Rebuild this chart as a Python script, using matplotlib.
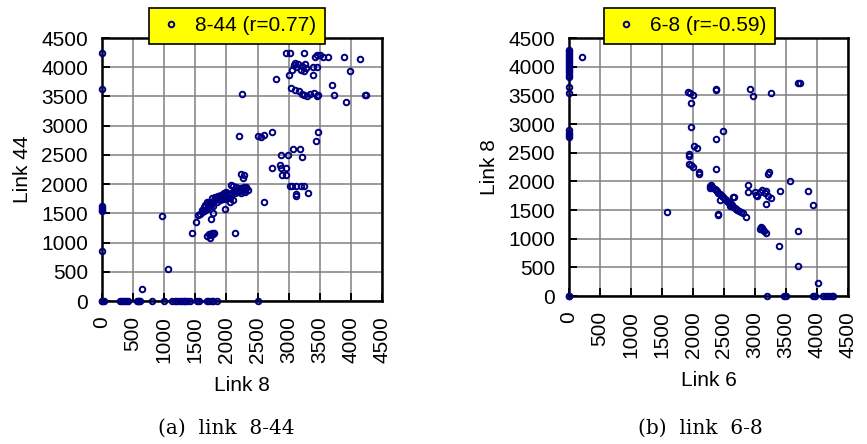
import matplotlib
matplotlib.use("Agg")
import matplotlib.pyplot as plt

# panel (a): link 8 vs link 44
link8_a = [
    0, 0, 0, 0, 0, 0, 0, 0, 0,
    30, 290, 320, 350, 390, 420, 560, 580, 600, 610, 800, 990, 1130, 1170, 1200,
    1260, 1290, 1310, 1340, 1370, 1420, 1530, 1560, 1690, 1720, 1760, 1780, 1850, 2510,
    640, 1060, 970,
    1450, 1690, 1720, 1740, 1760, 1780, 1800, 1750, 2130,
    1510, 1750, 1970, 1780, 2600,
    1540, 1580, 1610, 1640, 1660, 1680, 1700, 1710, 1730, 1750, 1690, 1720, 1770, 1790,
    1810, 1830, 1850, 1870, 1880, 1900, 1920, 1940, 1960, 1980, 2000, 1850, 1900, 1950,
    2000, 2050, 2060, 2100, 2000, 2040, 2080, 2120, 2160, 2200, 2240, 2280, 2320, 2340,
    2300, 2260, 2230, 2150, 2070, 2100, 1640, 1600, 1660, 1780, 1820, 1760,
    1700, 1740, 1800, 1860, 1920, 1980, 2020, 2140, 2180, 2220, 2260, 2310,
    2200, 2510, 2560, 2610, 2730, 3470, 3440, 3070, 3180, 2870, 2990, 3210, 2730, 2860,
    2870, 2950, 2900, 2950, 2240, 2280, 2260, 2250, 2800,
    2960, 3020, 3250, 3420, 3460, 3500, 3550, 3630, 3890, 4150, 3990,
    3000, 3050, 3080, 3100, 3120, 3150, 3200, 3220, 3240, 3260, 3280, 3390, 3450, 3390,
    3040, 3100, 3170, 3220, 3250, 3300, 3350, 3400, 3450, 3470, 3700, 3730, 3920, 4230, 4250,
    3020, 3060, 3120, 3200, 3250, 3110, 3120, 3310,
]
link44_a = [
    4240, 3620, 1620, 1590, 1560, 1540, 860, 0, 0,
    0, 0, 0, 0, 0, 0, 0, 0, 0, 0, 0, 0, 0, 0, 0,
    0, 0, 0, 0, 0, 0, 0, 0, 0, 0, 0, 0, 0, 0,
    200, 540, 1460,
    1160, 1120, 1140, 1080, 1170, 1150, 1160, 1130, 1160,
    1360, 1400, 1570, 1500, 1700,
    1470, 1490, 1520, 1540, 1560, 1580, 1600, 1620, 1640, 1650, 1700, 1700, 1680, 1700,
    1720, 1740, 1760, 1780, 1800, 1790, 1810, 1830, 1840, 1850, 1860, 1700, 1720, 1750,
    1740, 1760, 1700, 1720, 1800, 1820, 1850, 1880, 1900, 1920, 1940, 1950, 1930, 1900,
    1860, 1880, 1850, 1950, 1990, 1960, 1600, 1560, 1650, 1620, 1780, 1760,
    1640, 1680, 1730, 1790, 1770, 1800, 1780, 1840, 1870, 1900, 1910, 1950,
    2820, 2820, 2800, 2840, 2900, 2900, 2730, 2600, 2600, 2500, 2500, 2460, 2270, 2330,
    2270, 2270, 2150, 2160, 2180, 2150, 2110, 3550, 3790,
    4240, 4240, 4240, 4170, 4210, 4210, 4170, 4170, 4170, 4140, 3930,
    3870, 3950, 4030, 4070, 4000, 4050, 3950, 4020, 3930, 4050, 3980, 4000, 4000, 3870,
    3640, 3610, 3600, 3550, 3520, 3500, 3540, 3560, 3500, 3520, 3690, 3530, 3400, 3530, 3530,
    1960, 1960, 1960, 1960, 1960, 1800, 1830, 1840,
]

# panel (b): link 6 vs link 8
link6_b = [
    0, 0, 0, 0, 0, 0, 0, 0, 0, 0, 0, 0, 0, 0, 0, 0, 0, 0, 0, 0, 0, 0,
    215,
    1920, 1950, 2000, 1960, 1960, 2020, 2060, 1930, 1930, 1930, 1960, 2000, 2090, 2090,
    2370, 2370, 2480, 2370, 2370, 2920, 2960, 3250, 3700, 3730, 3220, 3210, 3570, 2890,
    2270, 2290, 2310, 2330, 2350, 2370, 2390, 2410, 2430, 2450, 2470, 2490, 2510, 2530,
    2550, 2570, 2590, 2610, 2630, 2650, 2670, 2690, 2710, 2740, 2770, 2800, 2280, 2440,
    2640, 2660, 2600, 2400, 2400, 1580, 2860,
    2890, 3000, 3020, 3040, 3080, 3120, 3160, 3180, 3210, 3250, 3170, 3410, 3860, 3930,
    3080, 3100, 3120, 3130, 3150, 3170,
    3380, 3700, 3700, 4020,
    3190, 3470, 3500, 3940, 3960, 4100, 4150, 4200, 4240, 4260,
]
link8_b = [
    4290, 4250, 4220, 4180, 4150, 4120, 4080, 4050, 4010, 3970, 3940, 3900, 3860, 3820,
    3640, 3540, 2900, 2850, 2800, 2770, 0, 0,
    4160,
    3560, 3540, 3500, 3360, 2940, 2620, 2590, 2480, 2450, 2300, 2280, 2250, 2160, 2120,
    3610, 3600, 2870, 2730, 2210, 3610, 3490, 3540, 3710, 3710, 2160, 2120, 2000, 1940,
    1920, 1940, 1900, 1880, 1870, 1850, 1830, 1800, 1780, 1760, 1740, 1720, 1700, 1680,
    1660, 1640, 1620, 1600, 1580, 1560, 1540, 1520, 1500, 1490, 1470, 1450, 1880, 1680,
    1720, 1720, 1570, 1410, 1430, 1470, 1370,
    1820, 1820, 1760, 1750, 1820, 1850, 1800, 1830, 1750, 1710, 1600, 1830, 1830, 1580,
    1170, 1200, 1180, 1150, 1130, 1100,
    880, 1130, 530, 220,
    0, 0, 0, 0, 0, 0, 0, 0, 0, 0,
]

ticks = list(range(0, 4501, 500))
navy = "#000080"

plt.rcParams["font.family"] = ["Liberation Sans", "DejaVu Sans"]

fig = plt.figure(figsize=(8.67, 4.44), dpi=100)
ax1 = fig.add_axes([102 / 867, (444 - 301) / 444, 280 / 867, 263 / 444])
ax2 = fig.add_axes([569 / 867, (444 - 296) / 444, 279 / 867, 258 / 444])

panels = [
    (ax1, link8_a, link44_a, "Link 8", "Link 44", "8-44 (r=0.77)", 0.482, 1.046),
    (ax2, link6_b, link8_b, "Link 6", "Link 8", "6-8 (r=-0.59)", 0.432, 1.047),
]

for ax, xs, ys, xl, yl, lab, lx, ly in panels:
    ax.plot(xs, ys, linestyle="none", marker="o", markersize=4,
            markerfacecolor="none", markeredgecolor=navy, markeredgewidth=1.4,
            label=lab, clip_on=False, zorder=3)
    ax.set_xlim(0, 4500)
    ax.set_ylim(0, 4500)
    ax.set_xticks(ticks)
    ax.set_yticks(ticks)
    ax.grid(True, color="#808080", linewidth=1.1)
    ax.set_axisbelow(True)
    for s in ax.spines.values():
        s.set_linewidth(1.8)
        s.set_color("black")
    ax.tick_params(direction="in", length=6, width=1.4, labelsize=15)
    ax.tick_params(axis="x", pad=11, labelrotation=90)
    ax.tick_params(axis="y", pad=10)
    ax.set_xlabel(xl, fontsize=15, labelpad=9)
    ax.set_ylabel(yl, fontsize=15, labelpad=7)
    leg = ax.legend(loc="center", bbox_to_anchor=(lx, ly), fontsize=15,
                    handlelength=1.3, handletextpad=0.5, borderpad=0.4,
                    borderaxespad=0, fancybox=False, framealpha=1,
                    facecolor="#ffff00", edgecolor="black")
    leg.get_frame().set_linewidth(1.2)
    leg.set_zorder(10)

fig.text(226 / 867, 1 - 428 / 444, "(a)  link  8-44", ha="center", va="center",
         fontsize=14.5, family="DejaVu Serif")
fig.text(700 / 867, 1 - 428 / 444, "(b)  link  6-8", ha="center", va="center",
         fontsize=14.5, family="DejaVu Serif")

fig.savefig("out.png", dpi=100)
